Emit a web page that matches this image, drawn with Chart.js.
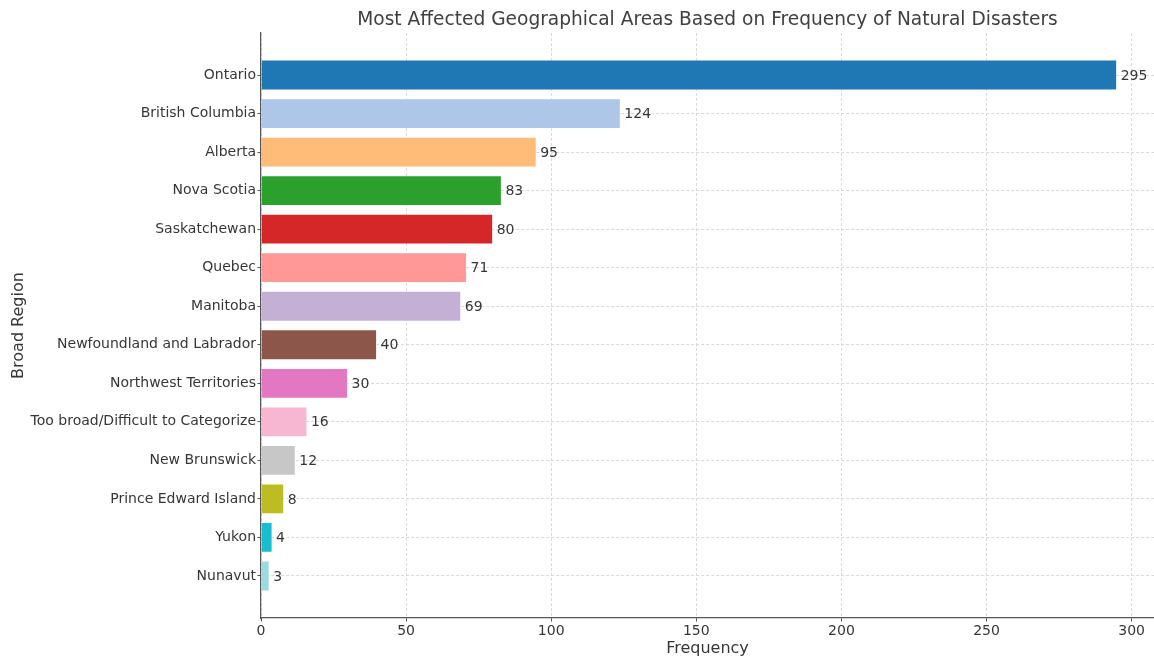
<!DOCTYPE html>
<html>
<head>
<meta charset="utf-8">
<script src="https://cdn.jsdelivr.net/npm/chart.js@4"></script>
<style>
  html, body { margin: 0; padding: 0; background: #fff; }
  #wrap { width: 1154px; height: 658px; }
</style>
</head>
<body>
<div id="wrap"><canvas id="chart"></canvas></div>
<script>
// Regions ordered from most to least affected
const regions = [
  "Ontario", "British Columbia", "Alberta", "Nova Scotia", "Saskatchewan",
  "Quebec", "Manitoba", "Newfoundland and Labrador", "Northwest Territories",
  "Too broad/Difficult to Categorize", "New Brunswick", "Prince Edward Island",
  "Yukon", "Nunavut"
];
const frequencies = [295, 124, 95, 83, 80, 71, 69, 40, 30, 16, 12, 8, 4, 3];
const barColors = [
  "#1f77b4", "#aec7e8", "#ffbb78", "#2ca02c", "#d62728", "#ff9896", "#c5b0d5",
  "#8c564b", "#e377c2", "#f7b6d2", "#c7c7c7", "#bcbd22", "#17becf", "#9edae5"
];
const xTicks = [0, 50, 100, 150, 200, 250, 300];

const textColor = "#363636";
const fontFamily = "'DejaVu Sans', sans-serif";

// Write each bar's value just past its end
const valueLabels = {
  id: "valueLabels",
  afterDatasetsDraw(chart) {
    const ctx = chart.ctx;
    const meta = chart.getDatasetMeta(0);
    ctx.save();
    ctx.font = "14px " + fontFamily;
    ctx.fillStyle = textColor;
    ctx.textAlign = "left";
    ctx.textBaseline = "middle";
    meta.data.forEach((bar, i) => {
      ctx.fillText(String(frequencies[i]), bar.x + 3.5, bar.y + 1);
    });
    ctx.restore();
  }
};

const gridStyle = {
  color: "#d9d9d9",
  lineWidth: 1,
  drawTicks: true,
  tickLength: 3.5,
  tickColor: "#555",
  tickWidth: 1,
  tickBorderDash: []
};
const borderStyle = { display: true, color: "#555", width: 1.2, dash: [3, 2] };

new Chart(document.getElementById("chart"), {
  type: "bar",
  data: {
    datasets: [{
      data: frequencies.map((v, i) => ({ x: v, y: i })),
      backgroundColor: barColors,
      borderColor: "rgba(255,255,255,0.35)",
      borderWidth: 1,
      barPercentage: 0.8,
      categoryPercentage: 1.0
    }]
  },
  options: {
    indexAxis: "y",
    responsive: true,
    maintainAspectRatio: false,
    animation: false,
    layout: { padding: 0 },
    plugins: {
      legend: { display: false },
      tooltip: { enabled: false },
      title: {
        display: true,
        fullSize: false,
        text: "Most Affected Geographical Areas Based on Frequency of Natural Disasters",
        color: "#404040",
        font: { family: fontFamily, size: 18.6, weight: "normal", lineHeight: 1.2 },
        padding: { top: 9, bottom: 1.7 }
      }
    },
    scales: {
      x: {
        type: "linear",
        min: 0,
        max: 307.7,
        z: 1,
        afterBuildTicks(scale) { scale.ticks = xTicks.map(v => ({ value: v })); },
        afterFit(scale) { scale.height = 40; },
        ticks: {
          color: textColor,
          font: { family: fontFamily, size: 14 },
          padding: 1
        },
        grid: gridStyle,
        border: borderStyle,
        title: {
          display: true,
          text: "Frequency",
          color: textColor,
          font: { family: fontFamily, size: 16 },
          padding: { top: 1, bottom: 0 }
        }
      },
      y: {
        type: "linear",
        reverse: true,
        offset: false,
        min: -1.09,
        max: 14.09,
        z: 1,
        afterBuildTicks(scale) { scale.ticks = regions.map((r, i) => ({ value: i })); },
        afterFit(scale) { scale.width = 261; },
        ticks: {
          color: textColor,
          font: { family: fontFamily, size: 14 },
          padding: 1.5,
          callback: (v) => regions[v] ?? ""
        },
        grid: Object.assign({}, gridStyle, { offset: false }),
        border: borderStyle,
        title: {
          display: true,
          text: "Broad Region",
          color: textColor,
          font: { family: fontFamily, size: 16 },
          padding: { top: 9, bottom: 0 }
        }
      }
    }
  },
  plugins: [valueLabels]
});
</script>
</body>
</html>
